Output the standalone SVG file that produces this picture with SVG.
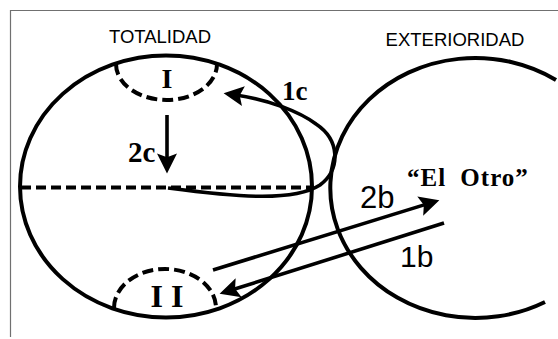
<svg xmlns="http://www.w3.org/2000/svg" width="558" height="339" viewBox="0 0 558 339">
<style>
.ln{fill:none;stroke:#000;stroke-width:4}
.dash{fill:none;stroke:#000;stroke-width:4;stroke-dasharray:10 5}
.dash2{fill:none;stroke:#000;stroke-width:4;stroke-dasharray:11 5}
.sans{font-family:"Liberation Sans",Arial,sans-serif;fill:#000}
.serif{font-family:"Liberation Serif","Times New Roman",serif;fill:#000;font-weight:bold}
.arr{fill:none;stroke:#000;stroke-width:3.6}
</style>
<defs>
<marker id="ah" markerUnits="userSpaceOnUse" markerWidth="30" markerHeight="30" viewBox="-10 -10 24 20" refX="0" refY="0" orient="auto" overflow="visible">
<path d="M-6,-8 L10,0 L-6,8 L-3,0 Z" fill="#000"/>
</marker>
</defs>
<rect width="558" height="339" fill="#fff"/>
<polyline points="10.5,337 10.5,10.5 558,10.5" fill="none" stroke="#707070" stroke-width="1.2"/>

<g id="totalidad">
<ellipse class="ln" cx="166" cy="186.5" rx="146" ry="131"/>
<text class="sans" x="160" y="43" font-size="18.5" text-anchor="middle">TOTALIDAD</text>
<line class="dash" x1="21" y1="187.5" x2="312" y2="187.5"/>
</g>

<g id="exterioridad">
<path class="ln" d="M556 80 A145 130 0 1 0 545 302"/>
<text class="sans" x="455" y="46" font-size="18.5" text-anchor="middle">EXTERIORIDAD</text>
</g>

<g id="node-I">
<path class="dash2" d="M116 64 A50.5 36 0 0 0 217 64"/>
<text class="serif" x="167" y="88" font-size="28" text-anchor="middle" font-weight="normal">I</text>
</g>

<g id="node-II">
<path class="dash2" d="M114 308 A51 39 0 0 1 216 308"/>
<text class="serif" x="167" y="307" font-size="32" text-anchor="middle" font-weight="normal">I I</text>
</g>

<g id="node-elotro">
<text class="serif" x="407" y="186" font-size="25" letter-spacing="1" word-spacing="7">“El Otro”</text>
</g>

<g id="connectors">
<path class="arr" d="M168 188 C230 196 292 203 320 185 C341 169 340 140 316 124 C300 112 270 100 236 95" marker-end="url(#ah)"/>
<line class="arr" x1="167" y1="115" x2="167" y2="161" marker-end="url(#ah)"/>
<line class="arr" x1="213" y1="270" x2="427.4" y2="203.9" marker-end="url(#ah)"/>
<line class="arr" x1="444" y1="223" x2="231.5" y2="290" marker-end="url(#ah)"/>
</g>

<g id="labels">
<text class="serif" x="282" y="100" font-size="27">1c</text>
<text class="serif" x="128" y="162" font-size="29">2c</text>
<text class="sans" x="360" y="208" font-size="31">2b</text>
<text class="sans" x="400" y="267" font-size="30">1b</text>
</g>
</svg>
